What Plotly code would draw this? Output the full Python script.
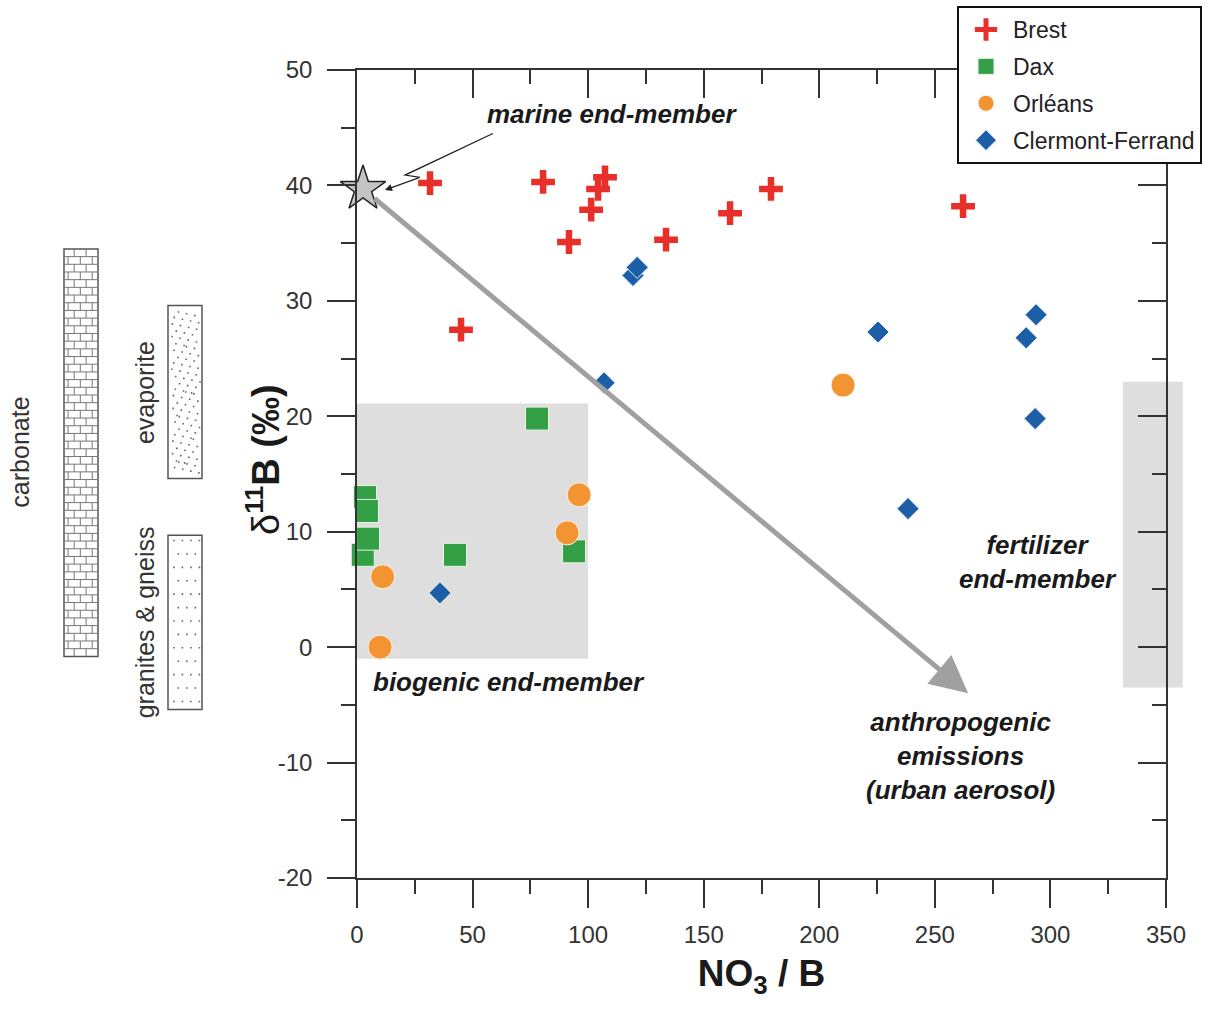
import plotly.graph_objects as go

# ---------------- data ----------------
brest_x = [31.6, 45.0, 80.5, 91.7, 101.3, 104.3, 107.3, 133.7, 161.4, 179.1, 262.2]
brest_y = [40.2, 27.5, 40.3, 35.1, 37.9, 39.7, 40.7, 35.3, 37.6, 39.7, 38.2]
dax_x = [2.5, 3.5, 4.3, 4.8, 42.4, 77.9, 93.9]
dax_y = [8.0, 13.0, 11.8, 9.4, 8.0, 19.8, 8.3]
orleans_x = [10.0, 11.1, 90.9, 96.1, 210.3]
orleans_y = [0.0, 6.1, 9.9, 13.2, 22.7]
cf_x = [35.9, 106.9, 119.4, 121.2, 225.4, 238.4, 289.5, 293.4, 293.8]
cf_y = [4.7, 22.9, 32.2, 32.9, 27.3, 12.0, 26.8, 19.8, 28.8]
marine_x = [2.6]
marine_y = [39.7]

# end-member fields (NO3/B range, d11B range)
biogenic_x = [0, 100]
biogenic_y = [-1.0, 21.1]
fertilizer_x = [331.4, 357.3]
fertilizer_y = [-3.5, 23.0]
# rock d11B ranges
carbonate_y = [-0.8, 34.5]
evaporite_y = [14.6, 29.6]
granite_y = [-5.4, 9.7]
# mixing arrow end (anthropogenic emissions)
anthro_x = [264.4]
anthro_y = [-4.0]

x_ticks = [0, 50, 100, 150, 200, 250, 300, 350]
x_ticktext = ["0", "50", "100", "150", "200", "250", "300", "350"]
y_ticks = [-20, -10, 0, 10, 20, 30, 40, 50]
y_ticktext = ["-20", "-10", "0", "10", "20", "30", "40", "50"]
X_RANGE = [0, 350]
Y_RANGE = [-20, 50]

# ---------------- layout constants ----------------
W, H = 1217, 1011
PL, PT, PW, PH = 357, 70, 809, 808
FONT = "Liberation Sans, Arial, sans-serif"
AX = "#333333"
RED, GREEN, ORANGE, BLUE = "#e8302a", "#34a046", "#f39433", "#1c5fa6"


def pxx(px):
    return (px - PL) / PW


def pxy(py):
    return (PT + PH - py) / PH


def dy(v):
    return (v - Y_RANGE[0]) / (Y_RANGE[1] - Y_RANGE[0])


def dx(v):
    return (v - X_RANGE[0]) / (X_RANGE[1] - X_RANGE[0])


fig = go.Figure()

fig.add_trace(go.Scatter(x=brest_x, y=brest_y, mode="markers", name="Brest",
                         legendgroup="b", cliponaxis=False,
                         marker=dict(symbol="cross-thin-open", size=17, color=RED,
                                     line=dict(color=RED, width=6.5))))
fig.add_trace(go.Scatter(x=dax_x, y=dax_y, mode="markers", name="Dax",
                         legendgroup="d", cliponaxis=False,
                         marker=dict(symbol="square", size=23, color=GREEN,
                                     line=dict(color="#e8f5e8", width=1))))
fig.add_trace(go.Scatter(x=orleans_x, y=orleans_y, mode="markers", name="Orléans",
                         legendgroup="o", cliponaxis=False,
                         marker=dict(symbol="circle", size=24, color=ORANGE,
                                     line=dict(color="#fff3e6", width=1))))
fig.add_trace(go.Scatter(x=cf_x, y=cf_y, mode="markers", name="Clermont-Ferrand",
                         legendgroup="c", cliponaxis=False,
                         marker=dict(symbol="diamond", size=17, color=BLUE,
                                     line=dict(color="#e6eef8", width=1))))
fig.add_trace(go.Scatter(x=marine_x, y=marine_y, mode="markers", showlegend=False,
                         cliponaxis=False, hoverinfo="skip",
                         marker=dict(symbol="star", size=34, color="#c4c4c4",
                                     line=dict(color="#222222", width=1.5))))
# dummy trace for mirrored top/right axes
fig.add_trace(go.Scatter(x=[None], y=[None], xaxis="x2", yaxis="y2",
                         showlegend=False, hoverinfo="skip"))

shapes = []
# end-member fields
shapes.append(dict(type="rect", xref="x", yref="y", x0=biogenic_x[0], x1=biogenic_x[1],
                   y0=biogenic_y[0], y1=biogenic_y[1], fillcolor="#dedede",
                   line=dict(width=0), layer="below"))
shapes.append(dict(type="rect", xref="paper", yref="paper", x0=dx(fertilizer_x[0]),
                   x1=dx(fertilizer_x[1]), y0=dy(fertilizer_y[0]), y1=dy(fertilizer_y[1]),
                   fillcolor="#dedede", line=dict(width=0), layer="below"))


# rock columns (left side)
def column(x0px, x1px, yr):
    return dict(type="rect", xref="paper", yref="paper", x0=pxx(x0px), x1=pxx(x1px),
                y0=dy(yr[0]), y1=dy(yr[1]), fillcolor="white",
                line=dict(color="#555555", width=1.5), layer="above")


shapes.append(column(64, 98, carbonate_y))
shapes.append(column(168, 202, evaporite_y))
shapes.append(column(168, 202, granite_y))

# brick pattern
cx0, cx1 = pxx(64), pxx(98)
yb, yt = dy(carbonate_y[0]), dy(carbonate_y[1])
hpx = (yt - yb) * PH
nrows = int(round(hpx / 7.7))
rh = (yt - yb) / nrows
segs = []
for i in range(1, nrows):
    yy = yb + i * rh
    segs.append(f"M{cx0:.5f},{yy:.5f} L{cx1:.5f},{yy:.5f}")
for i in range(nrows):
    ya, yb2 = yb + i * rh, yb + (i + 1) * rh
    fr = [0.3, 0.65] if i % 2 == 0 else [0.12, 0.48, 0.83]
    for f in fr:
        xx = cx0 + f * (cx1 - cx0)
        segs.append(f"M{xx:.5f},{ya:.5f} L{xx:.5f},{yb2:.5f}")
shapes.append(dict(type="path", xref="paper", yref="paper", path=" ".join(segs),
                   line=dict(color="#777777", width=1), layer="above"))

# evaporite dots
ex0, ex1 = pxx(168), pxx(202)
ey0, ey1 = dy(evaporite_y[0]), dy(evaporite_y[1])
dots = []
dl = 1.6 / PW
for i in range(95):
    u = (0.5 + i * 0.7548776662) % 1
    v = (0.5 + i * 0.5698402910) % 1
    xx = ex0 + (0.08 + 0.84 * u) * (ex1 - ex0)
    yy = ey0 + (0.03 + 0.94 * v) * (ey1 - ey0)
    dots.append(f"M{xx:.5f},{yy:.5f} L{xx + dl:.5f},{yy:.5f}")
# granite dots (regular)
gy0, gy1 = dy(granite_y[0]), dy(granite_y[1])
gh = (gy1 - gy0) * PH
grows = int(gh / 12.5)
for r in range(grows):
    yy = gy0 + (r + 0.6) * (gy1 - gy0) / grows
    fr = [0.15, 0.4, 0.65, 0.9] if r % 2 == 0 else [0.28, 0.53, 0.78]
    for f in fr:
        xx = ex0 + f * (ex1 - ex0)
        dots.append(f"M{xx:.5f},{yy:.5f} L{xx + dl:.5f},{yy:.5f}")
shapes.append(dict(type="path", xref="paper", yref="paper", path=" ".join(dots),
                   line=dict(color="#666666", width=1.6), layer="above"))

# marine pointer zig-zag
ptr_x = [58.8, 20.8, 27.3]
ptr_y = [44.5, 40.9, 40.7]
shapes.append(dict(type="path", xref="x", yref="y",
                   path=f"M{ptr_x[0]},{ptr_y[0]} L{ptr_x[1]},{ptr_y[1]} L{ptr_x[2]},{ptr_y[2]}",
                   line=dict(color="#222222", width=1.3), layer="above"))

annotations = []
annotations.append(dict(x=12.1, y=39.6, ax=ptr_x[2], ay=ptr_y[2], xref="x", yref="y",
                        axref="x", ayref="y", text="", showarrow=True, arrowhead=2,
                        arrowsize=1.1, arrowwidth=1.3, arrowcolor="#222222"))
# mixing arrow
annotations.append(dict(x=anthro_x[0], y=anthro_y[0], ax=marine_x[0], ay=marine_y[0],
                        xref="x", yref="y", axref="x", ayref="y", text="", showarrow=True,
                        arrowhead=2, arrowsize=1.5, arrowwidth=5, arrowcolor="#a0a0a0",
                        startstandoff=13))

TXT = dict(family=FONT, size=26, color="#1a1a1a")
annotations += [
    dict(x=110.3, y=46.2, xref="x", yref="y", text="<b><i>marine end-member</i></b>",
         showarrow=False, font=TXT),
    dict(x=65.8, y=-3.0, xref="x", yref="y", text="<b><i>biogenic end-member</i></b>",
         showarrow=False, font=TXT),
    dict(x=294.6, y=7.4, xref="x", yref="y",
         text="<b><i>fertilizer<br>end-member</i></b>", showarrow=False, font=TXT),
    dict(x=261.3, y=-9.4, xref="x", yref="y",
         text="<b><i>anthropogenic<br>emissions<br>(urban aerosol)</i></b>",
         showarrow=False, font=TXT),
]
LBL = dict(family=FONT, size=25, color="#333333")
annotations += [
    dict(x=pxx(20), y=dy(sum(carbonate_y) / 2), xref="paper", yref="paper",
         xanchor="center", yanchor="middle",
         text="carbonate", textangle=-90, showarrow=False, font=LBL),
    dict(x=pxx(145), y=dy(sum(evaporite_y) / 2), xref="paper", yref="paper",
         xanchor="center", yanchor="middle",
         text="evaporite", textangle=-90, showarrow=False, font=LBL),
    dict(x=pxx(145), y=dy(sum(granite_y) / 2), xref="paper", yref="paper",
         xanchor="center", yanchor="middle",
         text="granites &amp; gneiss", textangle=-90, showarrow=False, font=LBL),
]
# y-axis title (placed as an annotation for exact positioning)
annotations.append(dict(x=pxx(263), y=pxy(460), xref="paper", yref="paper",
                        xanchor="center", yanchor="middle", textangle=-90,
                        text="δ<sup><b>11</b></sup><b>B (‰)</b>", showarrow=False,
                        font=dict(family=FONT, size=38, color="#1a1a1a")))

tick_common = dict(showline=True, linecolor=AX, linewidth=1.5, tickcolor=AX,
                   tickwidth=1.5, ticklen=28, showgrid=False, zeroline=False)

fig.update_layout(
    width=W, height=H,
    margin=dict(l=PL, r=W - PL - PW, t=PT, b=H - PT - PH, autoexpand=False),
    paper_bgcolor="white", plot_bgcolor="rgba(0,0,0,0)",
    font=dict(family=FONT, color="#333333"),
    shapes=shapes, annotations=annotations,
    xaxis=dict(range=X_RANGE, tickvals=x_ticks, ticktext=x_ticktext, ticks="outside",
               minor=dict(ticks="outside", ticklen=14, dtick=25, tickcolor=AX, tickwidth=1.5),
               tickfont=dict(size=24, color="#333333"), ticklabelstandoff=6,
               title=dict(text="<b>NO<sub>3</sub> / B</b>", standoff=14,
                          font=dict(size=37, color="#1a1a1a")),
               **tick_common),
    yaxis=dict(range=Y_RANGE, tickvals=y_ticks, ticktext=y_ticktext, ticks="outside",
               minor=dict(ticks="outside", ticklen=14, dtick=5, tickcolor=AX, tickwidth=1.5),
               tickfont=dict(size=24, color="#333333"), ticklabelstandoff=10,
               **tick_common),
    xaxis2=dict(range=X_RANGE, overlaying="x", side="top", anchor="y", tickvals=x_ticks,
                ticks="inside", showticklabels=False,
                minor=dict(ticks="inside", ticklen=14, dtick=25, tickcolor=AX, tickwidth=1.5),
                **tick_common),
    yaxis2=dict(range=Y_RANGE, overlaying="y", side="right", anchor="x", tickvals=y_ticks,
                ticks="inside", showticklabels=False,
                minor=dict(ticks="inside", ticklen=14, dtick=5, tickcolor=AX, tickwidth=1.5),
                **tick_common),
    legend=dict(x=pxx(957), y=pxy(6), xanchor="left", yanchor="top",
                bgcolor="white", bordercolor="#111111", borderwidth=2,
                font=dict(family=FONT, size=23, color="#222222"),
                tracegroupgap=4, itemwidth=44),
    showlegend=True,
)

fig.write_html("out.html")
